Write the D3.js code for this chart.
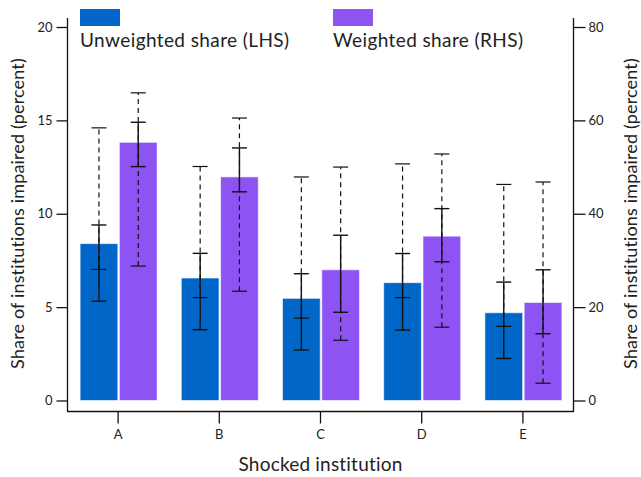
<!DOCTYPE html>
<html><head><meta charset="utf-8">
<script src="https://cdn.jsdelivr.net/npm/d3@7/dist/d3.min.js"></script>
<style>
body{margin:0;background:#fff;}
text{font-family:Lato, "Noto Sans", sans-serif;fill:#222;}
</style></head>
<body>
<svg id="c" width="641" height="477"></svg>
<script>
const categories = ['A','B','C','D','E'];
const seriesNames = ['Unweighted share (LHS)','Weighted share (RHS)'];
// Unweighted (LHS, percent)
const unweighted      = [8.40, 6.56, 5.47, 6.31, 4.70];
const unwSolidLo      = [5.32, 3.79, 2.70, 3.77, 2.25];
const unwSolidHi      = [9.40, 7.88, 6.79, 7.87, 6.34];
const unwDashLo       = [7.02, 5.51, 4.41, 5.51, 3.97];
const unwDashHi       = [14.60, 12.53, 11.97, 12.67, 11.57];
// Weighted (RHS, percent)
const weighted        = [55.3, 47.9, 28.0, 35.2, 21.0];
const wSolidLo        = [50.1, 44.7, 18.9, 29.7, 14.3];
const wSolidHi        = [59.6, 54.1, 35.4, 41.1, 28.0];
const wDashLo         = [28.8, 23.4, 12.9, 15.7, 3.7];
const wDashHi         = [65.9, 60.5, 50.0, 52.8, 46.8];
const leftTicks  = [0, 5, 10, 15, 20];
const rightTicks = [0, 20, 40, 60, 80];

const colors = ['#0066c8', '#8e53f3'];

const svg = d3.select('#c');
const L = 67.5, R = 573.5, B = 411.5, T = 18;

const x = d3.scaleBand().domain(categories).range([L, R]).padding(0);
const xs = d3.scaleBand().domain(seriesNames).range([-38, 39]).paddingInner(0.04);
const yL = d3.scaleLinear().domain([0, 20]).range([400.5, 27]);
const yR = d3.scaleLinear().domain([0, 80]).range([400.5, 27]);

const data = categories.map((c, i) => ([
  {cat: c, s: seriesNames[0], v: unweighted[i], y: yL, sLo: unwSolidLo[i], sHi: unwSolidHi[i], dLo: unwDashLo[i], dHi: unwDashHi[i], col: colors[0]},
  {cat: c, s: seriesNames[1], v: weighted[i], y: yR, sLo: wSolidLo[i], sHi: wSolidHi[i], dLo: wDashLo[i], dHi: wDashHi[i], col: colors[1]}
])).flat();

const cx = d => x(d.cat) + x.bandwidth()/2 + xs(d.s);

// bars
svg.append('g').selectAll('rect').data(data).join('rect')
  .attr('x', d => cx(d))
  .attr('width', xs.bandwidth())
  .attr('y', d => d.y(d.v))
  .attr('height', d => d.y(0) - d.y(d.v))
  .attr('fill', d => d.col)
  .attr('stroke', '#fff').attr('stroke-opacity', 0.6).attr('stroke-width', 1);

// error bars
const capW = 7.5;
function errBar(g, lo, hi, dashed) {
  const gg = g.append('g').attr('stroke', '#111').attr('stroke-width', dashed ? 1.2 : 1.4).attr('fill', 'none');
  data.forEach(d => {
    const xm = cx(d) + xs.bandwidth()/2;
    const y1 = d.y(d[lo]), y2 = d.y(d[hi]);
    gg.append('line').attr('x1', xm).attr('x2', xm).attr('y1', y1).attr('y2', y2)
      .attr('stroke-dasharray', dashed ? '5,4' : null);
    [y1, y2].forEach(yy => gg.append('line').attr('x1', xm - capW).attr('x2', xm + capW).attr('y1', yy).attr('y2', yy));
  });
}
const eg = svg.append('g');
errBar(eg, 'dLo', 'dHi', true);
errBar(eg, 'sLo', 'sHi', false);

// frame lines
const frame = svg.append('g').attr('stroke', '#111').attr('stroke-width', 1.3);
frame.append('line').attr('x1', L).attr('x2', L).attr('y1', T).attr('y2', B + 0.6);
frame.append('line').attr('x1', R).attr('x2', R).attr('y1', T).attr('y2', B + 0.6);
frame.append('line').attr('x1', L).attr('x2', R).attr('y1', B).attr('y2', B);

// axes
const axL = svg.append('g').attr('transform', `translate(${L},0)`)
  .call(d3.axisLeft(yL).tickValues(leftTicks).tickSize(11).tickPadding(4));
const axR = svg.append('g').attr('transform', `translate(${R},0)`)
  .call(d3.axisRight(yR).tickValues(rightTicks).tickSize(12).tickPadding(3));
const axB = svg.append('g').attr('transform', `translate(0,${B})`)
  .call(d3.axisBottom(x).tickSize(12).tickPadding(6));
[axL, axR, axB].forEach(a => {
  a.select('.domain').remove();
  a.selectAll('.tick line').attr('stroke', '#111').attr('stroke-width', 1.3);
  a.selectAll('.tick text').attr('font-family', 'Lato, sans-serif').attr('font-size', 13).attr('fill', '#222');
});

// legend
const lg = svg.append('g');
[[80, 0], [333, 1]].forEach(([lx, i]) => {
  lg.append('rect').attr('x', lx).attr('y', 9).attr('width', 40).attr('height', 17).attr('fill', colors[i]);
  lg.append('text').attr('x', lx).attr('y', 47).attr('font-size', 19).attr('letter-spacing', 0.4).text(seriesNames[i]);
});

// titles
svg.append('text').attr('x', (L + R) / 2).attr('y', 471).attr('text-anchor', 'middle').attr('font-size', 19).attr('letter-spacing', 0.2).text('Shocked institution');
svg.append('text').attr('transform', 'translate(24,213.5) rotate(-90)').attr('text-anchor', 'middle').attr('font-size', 18).attr('letter-spacing', 0.15).text('Share of institutions impaired (percent)');
svg.append('text').attr('transform', 'translate(637,213.5) rotate(-90)').attr('text-anchor', 'middle').attr('font-size', 18).attr('letter-spacing', 0.15).text('Share of institutions impaired (percent)');
</script>
</body></html>
